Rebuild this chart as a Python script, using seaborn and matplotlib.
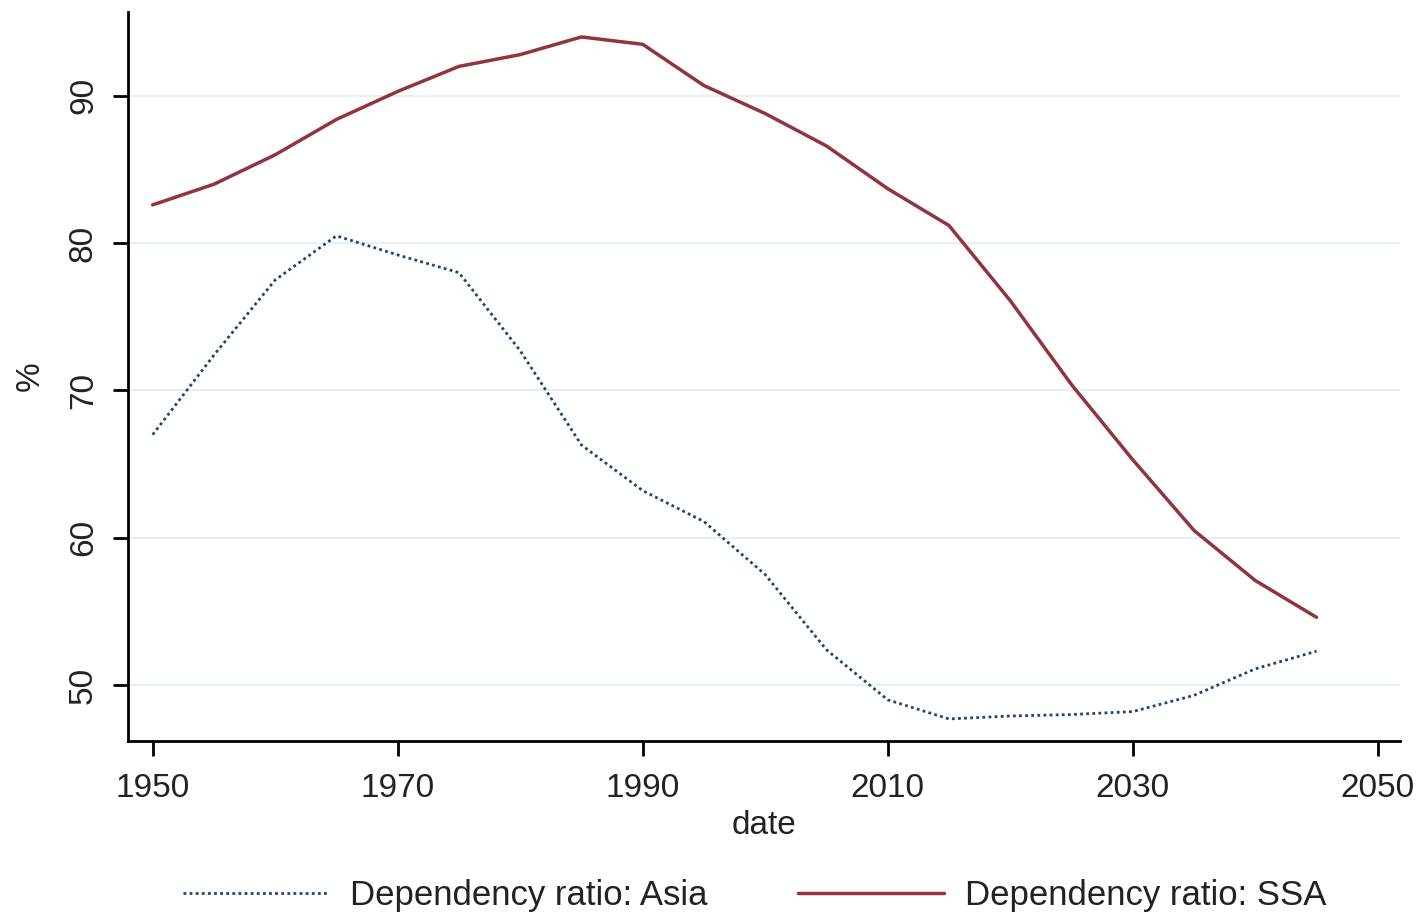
import pandas as pd
import seaborn as sns
import matplotlib.pyplot as plt

# === Data ===
years = [1950, 1955, 1960, 1965, 1970, 1975, 1980, 1985, 1990, 1995,
         2000, 2005, 2010, 2015, 2020, 2025, 2030, 2035, 2040, 2045]
asia = [67.0, 72.4, 77.5, 80.5, 79.2, 78.0, 72.7, 66.3, 63.2, 61.1,
        57.5, 52.4, 49.0, 47.7, 47.9, 48.0, 48.2, 49.3, 51.1, 52.3]
ssa = [82.6, 84.0, 86.0, 88.4, 90.3, 92.0, 92.8, 94.0, 93.5, 90.7,
       88.8, 86.6, 83.7, 81.2, 76.1, 70.4, 65.3, 60.5, 57.1, 54.6]
x_ticks = [1950, 1970, 1990, 2010, 2030, 2050]
y_ticks = [50, 60, 70, 80, 90]

df = pd.DataFrame({"date": years, "asia": asia, "ssa": ssa})

sns.set_style("white")
plt.rcParams["font.family"] = ["Liberation Sans", "DejaVu Sans"]

fig = plt.figure(figsize=(14.24, 9.16), dpi=100)
ax = fig.add_axes([0.09, 0.191, 0.893, 0.796])

sns.lineplot(data=df, x="date", y="asia", ax=ax, color="#1a476f",
             linestyle=(0, (1, 1.2)), linewidth=2.0, label="Dependency ratio: Asia")
sns.lineplot(data=df, x="date", y="ssa", ax=ax, color="#90353b",
             linewidth=2.5, label="Dependency ratio: SSA")

ax.set_xlim(1948.0, 2051.8)
ax.set_ylim(46.2, 95.7)
ax.set_xticks(x_ticks)
ax.set_yticks(y_ticks)
ax.grid(axis="y", color="#e6eff1", linewidth=1.5)
ax.set_axisbelow(True)

for s in ["top", "right"]:
    ax.spines[s].set_visible(False)
for s in ["left", "bottom"]:
    ax.spines[s].set_linewidth(2.0)
    ax.spines[s].set_color("black")

ax.tick_params(axis="both", direction="out", length=11, width=2.0,
               labelsize=24, colors="black", labelcolor="#222222", pad=12,
               bottom=True, left=True)
ax.tick_params(axis="y", labelrotation=90, pad=10)
for lbl in ax.get_yticklabels():
    lbl.set_va("center")

ax.set_xlabel("date", fontsize=24, color="#222222", labelpad=4)
ax.set_ylabel("%", fontsize=24, color="#222222", labelpad=16)

handles, labels = ax.get_legend_handles_labels()
ax.get_legend().remove()
fig.legend(handles, labels, loc="lower center", bbox_to_anchor=(0.53, -0.03),
           ncol=2, frameon=False, fontsize=25, handlelength=4.2,
           columnspacing=2.6, handletextpad=0.6, labelcolor="#222222")

plt.savefig("out.png", dpi=100)
